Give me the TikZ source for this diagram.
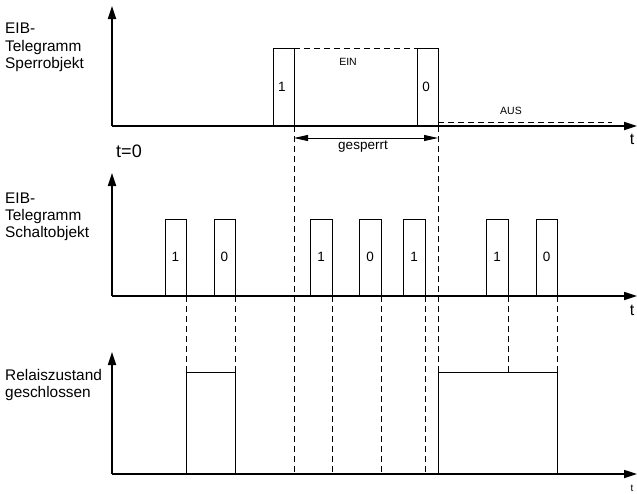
\documentclass[tikz,border=0pt]{standalone}
\usepackage{fontspec}
\setmainfont{Liberation Sans}
\usetikzlibrary{arrows.meta}
\begin{document}
\begin{tikzpicture}[x=1pt,y=-1pt,
  axis/.style={line width=1.7pt,-{Triangle[length=13pt,width=8pt]}},
  thin/.style={line width=0.9pt},
  dsh/.style={line width=0.9pt,dash pattern=on 6pt off 4pt},
  lbl/.style={anchor=base west,inner sep=0pt,font=\fontsize{15.4}{18}\selectfont,align=left},
  dig/.style={inner sep=0pt,font=\fontsize{13.5}{16}\selectfont},
  sml/.style={inner sep=0pt,font=\fontsize{10.5}{12}\selectfont},
  tlab/.style={inner sep=0pt,font=\fontsize{16}{18}\selectfont}]
\useasboundingbox (0,0) rectangle (637,493);
% axes
\coordinate (o1) at (112,126);
\coordinate (o2) at (112,296);
\coordinate (o3) at (112,474);
\draw[axis] (o1) -- (112,6);
\draw[axis] (o1) -- (637,126);
\draw[axis] (o2) -- (112,173);
\draw[axis] (o2) -- (637,296);
\draw[axis] (o3) -- (112,352);
\draw[axis] (o3) -- (637,474);
% labels left
\node[lbl] (l1a) at (5,33) {EIB-};
\node[lbl] (l1b) at (5,51) {Telegramm};
\node[lbl] (l1c) at (5,68) {Sperrobjekt};
\node[lbl] (l2a) at (5,203) {EIB-};
\node[lbl] (l2b) at (5,220) {Telegramm};
\node[lbl] (l2c) at (5,237) {Schaltobjekt};
\node[lbl] (l3a) at (5,380) {Relaiszustand};
\node[lbl] (l3b) at (5,397) {geschlossen};
\node[inner sep=0pt,font=\fontsize{18}{20}\selectfont] (t0) at (129,151) {t=0};
\node[tlab] (t1) at (632,139) {t};
\node[tlab] (t2) at (632,310) {t};
\node[inner sep=0pt,font=\fontsize{10}{12}\selectfont] (t3) at (632,488) {t};
% top pulses
\draw[thin] (273,126) -- (273,48) -- (294,48) -- (294,126);
\draw[thin] (417,126) -- (417,48) -- (438,48) -- (438,126);
\draw[dsh] (294,48) -- (417,48);
\draw[dsh] (438,122) -- (612,122);
\node[dig] (p1) at (282,87) {1};
\node[dig] (p0) at (426,87) {0};
\node[sml] (ein) at (348,62) {EIN};
\node[sml] (aus) at (511,111) {AUS};
% gesperrt
\coordinate (g1) at (294,138);
\coordinate (g2) at (438,138);
\draw[line width=0.9pt,{Triangle[length=14pt,width=6pt]}-{Triangle[length=14pt,width=6pt]}] (g1) -- (g2);
\node[inner sep=0pt,font=\fontsize{13.5}{16}\selectfont] (gs) at (363,147) {gesperrt};
% middle pulses
\foreach \a/\b/\d in {165/186/1,214/235/0,310/332/1,359/381/0,403/425/1,486/508/1,536/557/0}{
  \draw[thin] (\a,296) -- (\a,219) -- (\b,219) -- (\b,296);
  \node[dig] at ({(\a+\b)/2},257) {\d};
}
% dashed verticals
\draw[dsh] (294,126) -- (294,474);
\draw[dsh] (438,126) -- (438,372);
\foreach \x in {186,235,508,557}{\draw[dsh] (\x,296) -- (\x,372);}
\foreach \x in {332,381,425}{\draw[dsh] (\x,296) -- (\x,474);}
% relay
\draw[thin] (186,474) -- (186,372) -- (235,372) -- (235,474);
\draw[thin] (438,474) -- (438,372) -- (557,372) -- (557,474);
\end{tikzpicture}
\end{document}
